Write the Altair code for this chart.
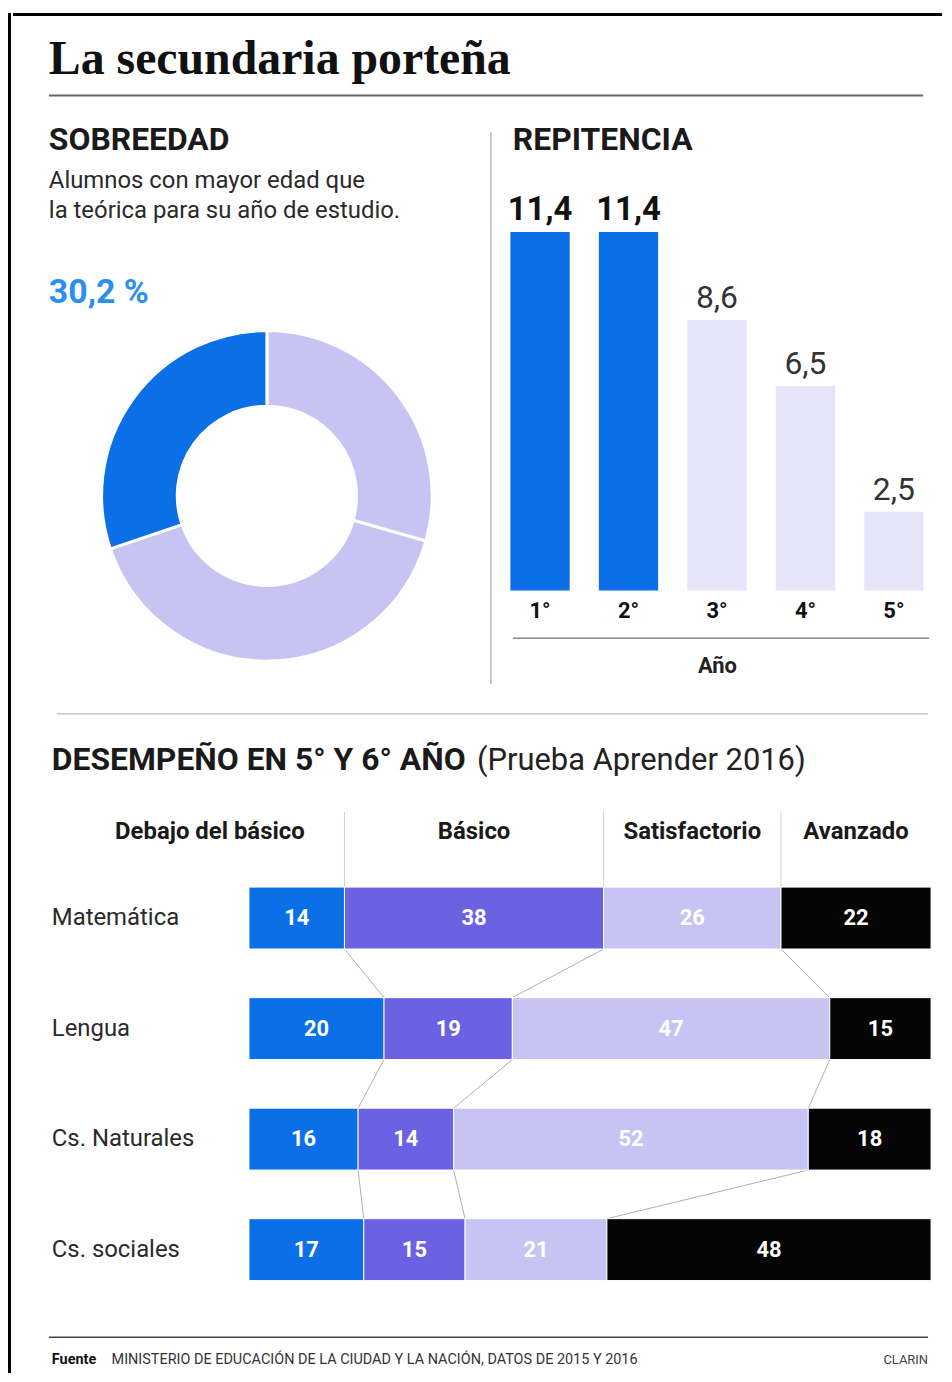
import altair as alt
import pandas as pd

# ---------------- data ----------------
sobreedad_partes = ["resto_a", "resto_b", "sobreedad"]
sobreedad_valores = [29.4, 40.4, 30.2]
sobreedad_orden = [0, 1, 2]

anios = ["1°", "2°", "3°", "4°", "5°"]
repitencia = [11.4, 11.4, 8.6, 6.5, 2.5]
destacado = ["sí", "sí", "no", "no", "no"]

materias = ["Matemática", "Lengua", "Cs. Naturales", "Cs. sociales"]
niveles = ["Debajo del básico", "Básico", "Satisfactorio", "Avanzado"]
debajo = [14, 20, 16, 17]
basico = [38, 19, 14, 15]
satisfactorio = [26, 47, 52, 21]
avanzado = [22, 15, 18, 48]

# ---------------- styles ----------------
FONT = "Roboto"
SERIF = "Liberation Serif"
AZUL = "#0b6fe8"
VIOLETA = "#6b62e3"
LAVANDA = "#c7c4f3"
CLARO = "#e5e4f8"
NEGRO = "#050505"
TXT = "#1a1a1a"

one = pd.DataFrame({"k": [0]})


def txt(s, x, y, size, weight="normal", color=TXT, align="left", font=FONT):
    return alt.Chart(one).mark_text(
        text=s, fontSize=size, fontWeight=weight, color=color, align=align,
        baseline="alphabetic", font=font
    ).encode(x=alt.value(x), y=alt.value(y))


def rule(x, x2, y, y2, color, w):
    return alt.Chart(one).mark_rule(color=color, strokeWidth=w).encode(
        x=alt.value(x), x2=alt.value(x2), y=alt.value(y), y2=alt.value(y2)
    )


TOTAL_H = 1366
MAIN_W = 933

# ---------------- frame ----------------
marco_izq = rule(1.5, 1.5, 0, TOTAL_H, "black", 3).properties(width=3, height=TOTAL_H)
marco_sup = rule(0, MAIN_W, 1.5, 1.5, "black", 3).properties(width=MAIN_W, height=3)

# ---------------- header ----------------
cab = alt.layer(
    txt("La secundaria porteña", 36, 58, 48, "bold", "#111", font=SERIF),
    rule(36, 914, 80, 80, "#666", 2),
).properties(width=MAIN_W, height=97)

# ---------------- sobreedad (donut) ----------------
don_df = pd.DataFrame({"parte": sobreedad_partes, "valor": sobreedad_valores,
                       "orden": sobreedad_orden})
donut = alt.Chart(don_df).mark_arc(
    innerRadius=90, outerRadius=166, stroke="white", strokeWidth=3
).encode(
    theta=alt.Theta("valor:Q"),
    order=alt.Order("orden:Q"),
    color=alt.Color("parte:N", scale=alt.Scale(domain=sobreedad_partes,
                                               range=[LAVANDA, LAVANDA, AZUL]), legend=None),
    x=alt.value(255), y=alt.value(385),
)
pct = str(sobreedad_valores[2]).replace(".", ",") + " %"
izq = alt.layer(
    txt("SOBREEDAD", 36, 38, 32, "bold"),
    txt("Alumnos con mayor edad que", 36, 76, 24, "normal", "#2a2a2a"),
    txt("la teórica para su año de estudio.", 36, 106, 24, "normal", "#2a2a2a"),
    txt(pct, 36, 191, 34, "bold", "#2b8ff0"),
    donut,
).properties(width=479, height=596)

# ---------------- repitencia (bars) ----------------
rep_df = pd.DataFrame({"anio": anios, "tasa": repitencia, "destacado": destacado})
xenc = alt.X("anio:N", sort=anios,
             scale=alt.Scale(paddingInner=0.33, paddingOuter=0.22),
             axis=alt.Axis(title="Año", labelAngle=0, domain=False, ticks=False,
                           labelFont=FONT, labelFontSize=22, labelFontWeight="bold",
                           labelColor="#111", labelPadding=10,
                           titleFont=FONT, titleFontSize=22, titleFontWeight="bold",
                           titleColor="#222", titlePadding=34))
yenc = alt.Y("tasa:Q", scale=alt.Scale(domain=[0, 15.2], nice=False), axis=None)
barras = alt.Chart(rep_df).mark_bar().encode(
    x=xenc, y=yenc,
    color=alt.Color("destacado:N", scale=alt.Scale(domain=["sí", "no"], range=[AZUL, CLARO]),
                    legend=None),
)
etq = alt.Chart(rep_df).transform_calculate(
    etiqueta="replace(format(datum.tasa, '.1f'), '.', ',')"
)
etq_b = etq.transform_filter("datum.destacado == 'sí'").mark_text(
    font=FONT, fontSize=33, fontWeight="bold", color="#111", dy=-12, baseline="alphabetic"
).encode(x=xenc, y=yenc, text="etiqueta:N")
etq_n = etq.transform_filter("datum.destacado == 'no'").mark_text(
    font=FONT, fontSize=32, fontWeight="normal", color="#333", dy=-12, baseline="alphabetic"
).encode(x=xenc, y=yenc, text="etiqueta:N")
der = alt.layer(
    rule(0, 0, 20, 574, "#999", 1),
    txt("REPITENCIA", 22, 38, 32, "bold"),
    barras, etq_b, etq_n,
    rule(22, 440, 528, 528, "#888", 1.5),
).properties(width=454, height=480)

fila1 = alt.hconcat(izq, der, spacing=0).resolve_scale(color="independent")

# ---------------- desempeño (stacked) ----------------
H = 0.28
valores = [debajo, basico, satisfactorio, avanzado]
filas = []
bordes = []
for i, m in enumerate(materias):
    vals = [valores[j][i] for j in range(4)]
    tot = float(sum(vals))
    acc = 0.0
    b = []
    for j, n in enumerate(niveles):
        x0 = acc / tot
        acc += vals[j]
        x1 = acc / tot
        filas.append(dict(materia=m, fila=i, nivel=n, valor=vals[j], x0=x0, x1=x1,
                          xm=(x0 + x1) / 2, y0=i - H, y1=i + H, primero=(j == 0)))
        b.append(x1)
    bordes.append(b)
des_df = pd.DataFrame(filas)

con = []
for i in range(len(materias) - 1):
    for k in range(3):
        con.append(dict(xa=bordes[i][k], xb=bordes[i + 1][k], ya=i + H, yb=i + 1 - H))
con_df = pd.DataFrame(con)

mat_df = des_df[des_df.fila == 0].copy()
mat_df["hy0"] = -0.96
mat_df["hy1"] = -H

XS = alt.Scale(domain=[-0.345985, 1.016058], nice=False, zero=False)
YS = alt.Scale(domain=[-1.919, 4.117], nice=False, zero=False, reverse=True)

seg = alt.Chart(des_df).mark_rect(stroke="white", strokeWidth=1).encode(
    x=alt.X("x0:Q", scale=XS, axis=None), x2="x1",
    y=alt.Y("y0:Q", scale=YS, axis=None), y2="y1",
    color=alt.Color("nivel:N", scale=alt.Scale(domain=niveles,
                                               range=[AZUL, VIOLETA, LAVANDA, NEGRO]), legend=None),
)
seg_txt = alt.Chart(des_df).mark_text(
    font=FONT, fontSize=22, fontWeight="bold", color="white", baseline="middle"
).encode(
    x=alt.X("xm:Q", scale=XS, axis=None), y=alt.Y("fila:Q", scale=YS, axis=None),
    text="valor:Q",
)
mat_txt = alt.Chart(pd.DataFrame({"materia": materias, "fila": list(range(len(materias)))})).mark_text(
    font=FONT, fontSize=24, color="#2a2a2a", align="left", baseline="middle"
).encode(x=alt.value(39), y=alt.Y("fila:Q", scale=YS, axis=None), text="materia:N")

conectores = alt.Chart(con_df).mark_rule(color="#9a9a9a", strokeWidth=0.8).encode(
    x=alt.X("xa:Q", scale=XS, axis=None), x2="xb",
    y=alt.Y("ya:Q", scale=YS, axis=None), y2="yb",
)
hlineas = alt.Chart(mat_df[mat_df.nivel != niveles[-1]]).mark_rule(
    color="#c4c4c4", strokeWidth=0.8
).encode(
    x=alt.X("x1:Q", scale=XS, axis=None),
    y=alt.Y("hy0:Q", scale=YS, axis=None), y2="hy1",
)
htxt1 = alt.Chart(mat_df[mat_df.primero]).mark_text(
    font=FONT, fontSize=24, fontWeight="bold", color=TXT, align="right", dx=-40,
    baseline="alphabetic"
).encode(x=alt.X("x1:Q", scale=XS, axis=None), y=alt.value(134), text="nivel:N")
htxt2 = alt.Chart(mat_df[~mat_df.primero]).mark_text(
    font=FONT, fontSize=24, fontWeight="bold", color=TXT, align="center",
    baseline="alphabetic"
).encode(x=alt.X("xm:Q", scale=XS, axis=None), y=alt.value(134), text="nivel:N")

fila2 = alt.layer(
    rule(44, 919, 8, 8, "#aaa", 1),
    txt("DESEMPEÑO EN 5° Y 6° AÑO", 39, 64, 32, "bold"),
    txt("(Prueba Aprender 2016)", 466, 64, 31, "normal", "#222"),
    hlineas, htxt1, htxt2, conectores, seg, seg_txt, mat_txt,
    rule(36, 919, 634, 634, "#444", 1.5),
    txt("Fuente", 39, 661, 14.5, "bold", "#111"),
    txt("MINISTERIO DE EDUCACIÓN DE LA CIUDAD Y LA NACIÓN, DATOS DE 2015 Y 2016",
        99, 661, 14.5, "normal", "#333"),
    txt("CLARIN", 919, 661, 13, "normal", "#444", align="right"),
).properties(width=MAIN_W, height=670)

principal = alt.vconcat(marco_sup, cab, fila1, fila2, spacing=0).resolve_scale(color="independent")

chart = alt.hconcat(marco_izq, principal, spacing=0).resolve_scale(
    color="independent"
).properties(
    padding={"left": 0, "top": 0, "right": 0, "bottom": 0}, background="white"
).configure_view(stroke=None)

chart.save("out.html", embed_options={"renderer": "svg", "actions": False})
